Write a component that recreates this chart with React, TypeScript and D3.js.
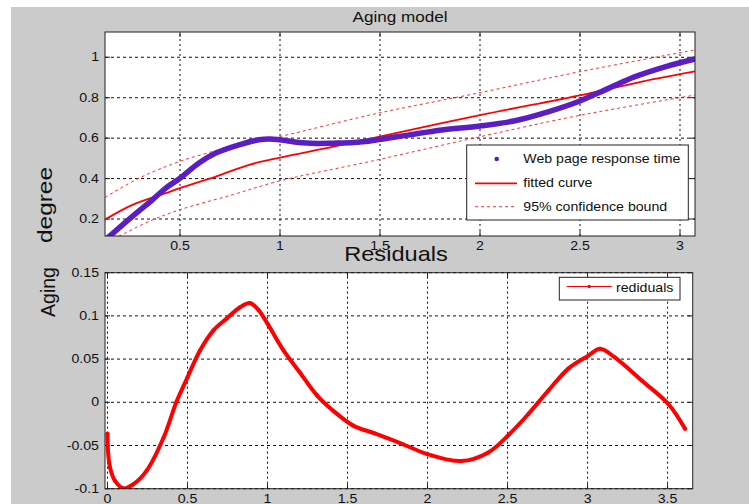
import * as d3 from 'd3';

// Aging model: measured web page response time, fitted curve and 95% bounds
const respX = [0.14, 0.262, 0.362, 0.429, 0.5, 0.595, 0.679, 0.795, 0.895, 0.945, 1.0, 1.095, 1.18, 1.267, 1.367, 1.475, 1.64, 1.81, 2.0, 2.175, 2.34, 2.49, 2.64, 2.775, 2.925, 3.07];
const respY = [0.108, 0.213, 0.295, 0.353, 0.402, 0.477, 0.526, 0.567, 0.592, 0.596, 0.592, 0.578, 0.574, 0.575, 0.578, 0.59, 0.615, 0.64, 0.66, 0.686, 0.73, 0.78, 0.845, 0.904, 0.953, 0.99];

const fitX = [0.125, 0.262, 0.429, 0.5, 0.679, 0.845, 1.0, 1.267, 1.475, 2.0, 2.505, 2.81, 3.075];
const fitY = [0.197, 0.27, 0.328, 0.353, 0.41, 0.468, 0.504, 0.558, 0.603, 0.714, 0.813, 0.88, 0.93];

const upX = [0.125, 0.295, 0.5, 0.762, 1.0, 1.475, 2.0, 2.505, 3.075];
const upY = [0.307, 0.402, 0.485, 0.559, 0.608, 0.72, 0.825, 0.93, 1.036];
const loX = [0.14, 0.345, 0.5, 0.762, 1.0, 1.475, 2.0, 2.505, 3.075];
const loY = [0.087, 0.188, 0.246, 0.32, 0.389, 0.49, 0.607, 0.714, 0.813];

// Residuals
const resX = [0.0, 0.003, 0.016, 0.047, 0.099, 0.16, 0.245, 0.35, 0.43, 0.5, 0.578, 0.661, 0.745, 0.828, 0.89, 0.943, 1.0, 1.1, 1.2, 1.31, 1.41, 1.536, 1.67, 1.84, 2.0, 2.21, 2.38, 2.5, 2.63, 2.755, 2.88, 3.005, 3.078, 3.17, 3.34, 3.505, 3.61];
const resY = [-0.036, -0.056, -0.0756, -0.091, -0.0996, -0.095, -0.079, -0.041, 0.0, 0.029, 0.06, 0.083, 0.097, 0.11, 0.115, 0.107, 0.091, 0.06, 0.035, 0.0078, -0.0097, -0.027, -0.036, -0.048, -0.06, -0.068, -0.058, -0.039, -0.0135, 0.0136, 0.039, 0.054, 0.062, 0.052, 0.025, -0.002, -0.031];

const topXTicks = [0.5, 1, 1.5, 2, 2.5, 3];
const topYTicks = [0.2, 0.4, 0.6, 0.8, 1];
const botXTicks = [0, 0.5, 1, 1.5, 2, 2.5, 3, 3.5];
const botYTicks = [-0.1, -0.05, 0, 0.05, 0.1, 0.15];

const FONT = '"Liberation Sans", Arial, sans-serif';
const SX = 1.18;
const PURPLE = '#5a1ec4';
const RED = '#ff0000';
const GRID = '#111';

const zip = (xs: number[], ys: number[]) => xs.map((x, i) => [x, ys[i]] as [number, number]);
const fmt = (t: number) => String(t);

const Txt = ({ x, y, anchor = 'start', size = 12, children }: any) => (
  <text
    transform={`translate(${x},${y}) scale(${SX},1)`}
    textAnchor={anchor}
    fontSize={size}
    fontFamily={FONT}
    fill="#111"
  >
    {children}
  </text>
);

const Axes = ({ id, x, y, xTicks, yTicks }: any) => {
  const [x0, x1] = x.range();
  const [y0, y1] = y.range();
  return (
    <g>
      <rect x={x0} y={y1} width={x1 - x0} height={y0 - y1} fill="#fff" />
      {xTicks.map((t: number) => (
        <line key={'gx' + t} x1={x(t)} x2={x(t)} y1={y0} y2={y1} stroke={GRID} strokeDasharray="2,3" />
      ))}
      {yTicks.map((t: number) => (
        <line key={'gy' + t} x1={x0} x2={x1} y1={y(t)} y2={y(t)} stroke={GRID} strokeDasharray="3,3" />
      ))}
      {xTicks.map((t: number) => (
        <g key={'tx' + t}>
          <line x1={x(t)} x2={x(t)} y1={y0} y2={y0 - 5} stroke="#222" />
          <line x1={x(t)} x2={x(t)} y1={y1} y2={y1 + 5} stroke="#222" />
        </g>
      ))}
      {yTicks.map((t: number) => (
        <g key={'ty' + t}>
          <line x1={x0} x2={x0 + 5} y1={y(t)} y2={y(t)} stroke="#222" />
          <line x1={x1} x2={x1 - 5} y1={y(t)} y2={y(t)} stroke="#222" />
        </g>
      ))}
      {yTicks.map((t: number) => (
        <Txt key={'ly' + t} x={x0 - 6} y={y(t) + 4} anchor="end">{fmt(t)}</Txt>
      ))}
      <clipPath id={id}>
        <rect x={x0} y={y1} width={x1 - x0} height={y0 - y1} />
      </clipPath>
    </g>
  );
};

export default function App() {
  // top panel scales
  const xT = d3.scaleLinear().domain([0.125, 3.075]).range([105, 695]);
  const yT = d3.scaleLinear().domain([0.116, 1.125]).range([236, 32]);
  // bottom panel scales
  const xB = d3.scaleLinear().domain([-0.0156, 3.657]).range([105, 692.7]);
  const yB = d3.scaleLinear().domain([-0.1, 0.15]).range([488.7, 272.7]);

  const lineT = d3.line().x(d => xT(d[0])).y(d => yT(d[1])).curve(d3.curveCatmullRom.alpha(0.5));
  const lineB = d3.line().x(d => xB(d[0])).y(d => yB(d[1])).curve(d3.curveCatmullRom.alpha(0.5));

  return (
    <svg
      width={749}
      height={504}
      style={{ position: 'absolute', left: 0, top: 0, background: '#fff' }}
    >
      <rect x={11} y={7} width={738} height={497} fill="#cbcbcb" />

      {/* Top panel */}
      <Axes id="clipT" x={xT} y={yT} xTicks={topXTicks} yTicks={topYTicks} />
      <g clipPath="url(#clipT)">
        <path d={lineT(zip(upX, upY)) || ''} fill="none" stroke="#ff3030" strokeWidth={1} strokeDasharray="3,3" />
        <path d={lineT(zip(loX, loY)) || ''} fill="none" stroke="#ff3030" strokeWidth={1} strokeDasharray="3,3" />
        <path d={lineT(zip(fitX, fitY)) || ''} fill="none" stroke={RED} strokeWidth={1.8} />
        <path d={lineT(zip(respX, respY)) || ''} fill="none" stroke={PURPLE} strokeWidth={5.5} strokeLinecap="round" />
      </g>
      <rect x={105} y={32} width={590} height={204} fill="none" stroke="#222" />
      {topXTicks.map(t => (
        <Txt key={'lxt' + t} x={xT(t)} y={250} anchor="middle">{fmt(t)}</Txt>
      ))}
      <Txt x={400} y={22} anchor="middle" size={14.5}>Aging model</Txt>

      {/* Top legend */}
      <rect x={466.7} y={145} width={221.6} height={75} fill="#fff" stroke="#222" />
      <circle cx={496.7} cy={159} r={2.3} fill={PURPLE} />
      <line x1={475} x2={517} y1={183.3} y2={183.3} stroke={RED} strokeWidth={1.8} />
      <line x1={475} x2={517} y1={206.7} y2={206.7} stroke="#ff3030" strokeDasharray="3,3" />
      <Txt x={523.3} y={163}>Web page response time</Txt>
      <Txt x={523.3} y={187.3}>fitted curve</Txt>
      <Txt x={523.3} y={210.7}>95% confidence bound</Txt>

      {/* Bottom panel */}
      <Axes id="clipB" x={xB} y={yB} xTicks={botXTicks} yTicks={botYTicks} />
      <g clipPath="url(#clipB)">
        <path d={lineB(zip(resX, resY)) || ''} fill="none" stroke={RED} strokeWidth={4} strokeLinejoin="round" />
        {zip(resX, resY).map((p, i) => (
          <circle key={i} cx={xB(p[0])} cy={yB(p[1])} r={2} fill={RED} />
        ))}
      </g>
      <rect x={105} y={272.7} width={587.7} height={216} fill="none" stroke="#222" />
      {botXTicks.map(t => (
        <Txt key={'lxb' + t} x={xB(t)} y={503} anchor="middle">{fmt(t)}</Txt>
      ))}
      <Txt x={396} y={261} anchor="middle" size={20}>Residuals</Txt>

      {/* Bottom legend */}
      <rect x={559.3} y={277.3} width={120.7} height={22.7} fill="#fff" stroke="#222" />
      <line x1={566.7} x2={611.7} y1={286.5} y2={286.5} stroke={RED} strokeWidth={1} />
      <circle cx={589.2} cy={286.5} r={1.8} fill={RED} />
      <Txt x={616} y={291.5}>rediduals</Txt>

      {/* Y label */}
      <text
        transform="translate(55,292) rotate(-90)"
        textAnchor="middle"
        fontSize={21}
        fontFamily={FONT}
        fill="#111"
        textLength={50}
        lengthAdjust="spacingAndGlyphs"
      >
        Aging
      </text>
      <text
        transform="translate(52,205) rotate(-90)"
        textAnchor="middle"
        fontSize={21}
        fontFamily={FONT}
        fill="#111"
        textLength={76}
        lengthAdjust="spacingAndGlyphs"
      >
        degree
      </text>
    </svg>
  );
}
